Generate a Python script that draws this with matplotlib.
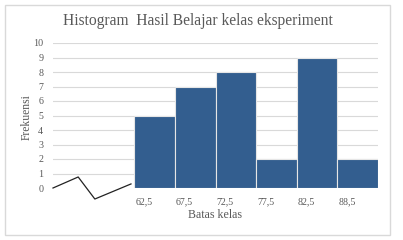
import matplotlib
matplotlib.use("Agg")
import matplotlib.pyplot as plt
from matplotlib.patches import Rectangle

categories = ["62,5", "67,5", "72,5", "77,5", "82,5", "88,5"]
frequencies = [5, 7, 8, 2, 9, 2]
y_ticks = list(range(0, 11))
title = "Histogram  Hasil Belajar kelas eksperiment"
x_label = "Batas kelas"
y_label = "Frekuensi"
# axis-break zigzag decoration (slot units, value units)
break_x = [0.0, 0.62, 1.03, 1.92]
break_y = [0.0, 0.76, -0.76, 0.28]

offset = 2  # two empty slots for the axis break
font = ["Liberation Serif", "DejaVu Serif"]
gray = "#595959"

fig = plt.figure(figsize=(4.03, 2.40), dpi=100)
fig.patches.append(Rectangle((5/403, 5/240), 385/403, 230/240, transform=fig.transFigure,
                             fill=False, edgecolor="#D9D9D9", linewidth=1))
ax = fig.add_axes([53/403, 1-188/240, 325/403, 145/240])
ax.set_xlim(0, offset + len(categories))
ax.set_ylim(0, 10)

for t in y_ticks[1:]:
    ax.axhline(t, color="#D9D9D9", linewidth=0.8, zorder=0)

xs = [offset + i + 0.5 for i in range(len(categories))]
ax.bar(xs, frequencies, width=1.0, color="#335E8F", edgecolor="#E6E6E6", linewidth=0.8, zorder=2)

ax.plot(break_x, break_y, color="#222222", linewidth=0.9, clip_on=False, zorder=3)

for s in ax.spines.values():
    s.set_visible(False)
ax.set_yticks(y_ticks)
ax.set_yticklabels([str(v) for v in y_ticks], fontfamily=font, fontsize=7.2, color=gray)
ax.tick_params(axis="y", length=0, pad=7)
ax.set_xticks([])
for i, c in enumerate(categories):
    ax.text(offset + i + 0.03, -0.65, c, ha="left", va="top", fontfamily=font,
            fontsize=7.2, color=gray)

fig.text(215/403, 1-215/240, x_label, ha="center", va="center", fontfamily=font,
         fontsize=8.6, color=gray)
fig.text(27/403, 1-117/240, y_label, ha="center", va="center", rotation=90,
         fontfamily=font, fontsize=8.4, color=gray)
fig.text(198/403, 1-21/240, title, ha="center", va="center", fontfamily=font,
         fontsize=11.2, color=gray)

fig.savefig("out.png", dpi=100)
